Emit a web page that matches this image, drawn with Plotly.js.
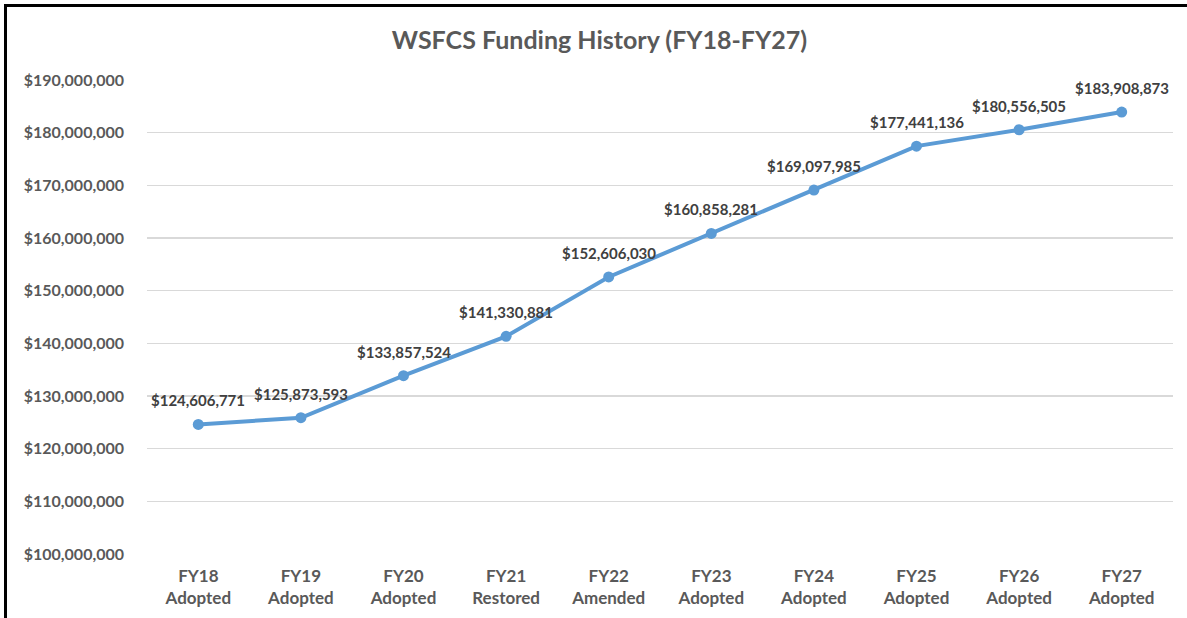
<!DOCTYPE html>
<html>
<head>
<meta charset="utf-8">
<script src="https://cdn.plot.ly/plotly-3.0.1.min.js"></script>
<style>
  html, body { margin: 0; padding: 0; background: #fff; }
  #chart { width: 1187px; height: 618px; position: absolute; left: 0; top: 0; }
  #frame { position: absolute; left: 4px; top: 4px; width: 1183px; height: 614px;
           border-top: 3px solid #000; border-left: 3px solid #000; box-sizing: border-box;
           pointer-events: none; }
</style>
</head>
<body>
<div id="chart"></div>
<div id="frame"></div>
<script>
const categories = [
  "FY18<br>Adopted", "FY19<br>Adopted", "FY20<br>Adopted", "FY21<br>Restored",
  "FY22<br>Amended", "FY23<br>Adopted", "FY24<br>Adopted", "FY25<br>Adopted",
  "FY26<br>Adopted", "FY27<br>Adopted"
];
const funding = [
  124606771, 125873593, 133857524, 141330881, 152606030,
  160858281, 169097985, 177441136, 180556505, 183908873
];
const yTickVals = [100e6, 110e6, 120e6, 130e6, 140e6, 150e6, 160e6, 170e6, 180e6, 190e6];
const yTickText = ["$100,000,000","$110,000,000","$120,000,000","$130,000,000","$140,000,000",
                   "$150,000,000","$160,000,000","$170,000,000","$180,000,000","$190,000,000"];

const fmt = v => "$" + v.toLocaleString("en-US");
const FONT = "Lato, 'Open Sans', sans-serif";

const trace = {
  type: "scatter",
  mode: "lines+markers",
  x: categories,
  y: funding,
  line: { color: "#5B9BD5", width: 4 },
  marker: { color: "#5B9BD5", size: 11 },
  cliponaxis: false,
  hoverinfo: "skip"
};

const annotations = funding.map((v, i) => ({
  x: categories[i], y: v, xref: "x", yref: "y",
  text: "<b>" + fmt(v) + "</b>",
  showarrow: false,
  xanchor: "center", yanchor: "middle",
  yshift: 24,
  font: { family: FONT, size: 15, color: "#404040" }
}));

const layout = {
  width: 1187, height: 618,
  margin: { l: 147, r: 14, t: 80, b: 64 },
  paper_bgcolor: "#ffffff",
  plot_bgcolor: "#ffffff",
  showlegend: false,
  annotations: annotations,
  title: {
    text: "<b>WSFCS Funding History (FY18-FY27)</b>",
    font: { family: FONT, size: 25, color: "#595959" },
    x: 0.505, xanchor: "center", y: 0.935, yanchor: "middle"
  },
  xaxis: {
    type: "category",
    range: [-0.5, 9.5],
    showgrid: false, zeroline: false, showline: false,
    ticks: "",
    ticklabelstandoff: 10,
    tickfont: { family: FONT, size: 17, color: "#595959", weight: "bold" },
    fixedrange: true
  },
  yaxis: {
    range: [100e6, 190e6],
    tickvals: yTickVals,
    ticktext: yTickText,
    showgrid: true, gridcolor: "#D9D9D9", gridwidth: 1.5,
    zeroline: false, showline: false,
    ticks: "",
    ticklabelstandoff: 22,
    tickfont: { family: FONT, size: 16, color: "#595959", weight: "bold" },
    fixedrange: true
  }
};

Plotly.newPlot("chart", [trace], layout, { displayModeBar: false, staticPlot: true });
</script>
</body>
</html>
